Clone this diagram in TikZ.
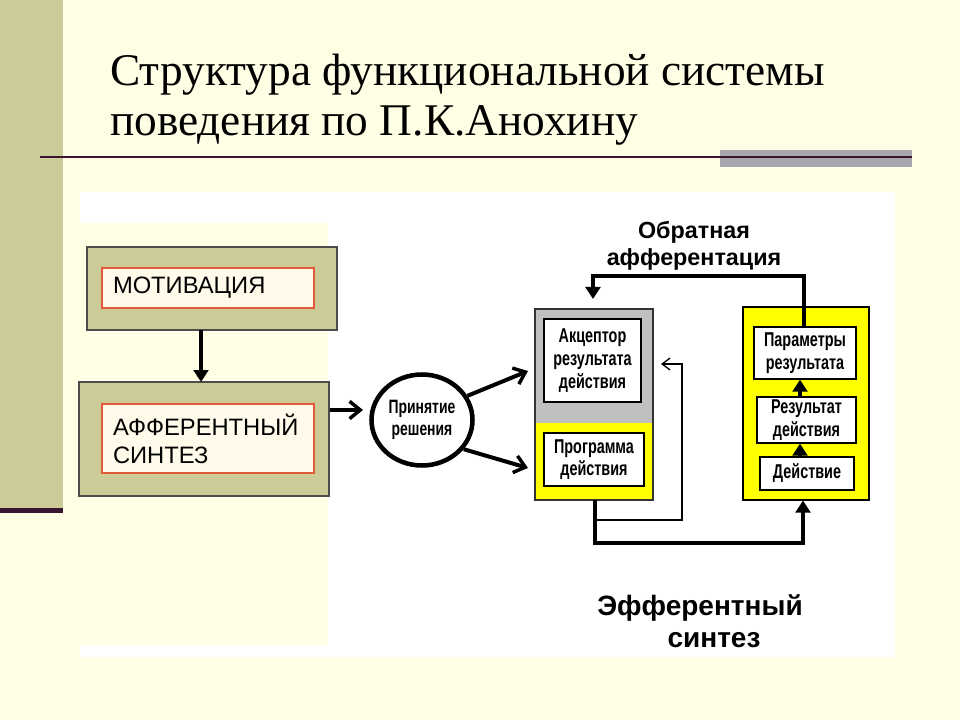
\documentclass[tikz,border=0pt]{standalone}
\usepackage{fontspec}
\setmainfont{Liberation Serif}
\newfontfamily\arialfont{Liberation Sans}
\newfontfamily\narrowfont[FakeStretch=0.72]{Liberation Sans}
\usetikzlibrary{arrows.meta, calc, shapes.geometric}

\definecolor{slidebg}{HTML}{FFFFE6}
\definecolor{olive}{HTML}{CCCC99}
\definecolor{darkrule}{HTML}{3A1530}
\definecolor{rulegray}{HTML}{A6A6AE}
\definecolor{innerfill}{HTML}{FFFAEA}
\definecolor{innerred}{HTML}{E05A3A}
\definecolor{blockgray}{HTML}{C0C0C0}
\definecolor{blockyellow}{HTML}{FFFF00}

\begin{document}
\begin{tikzpicture}[
        x=0.75pt, y=-0.75pt,
        outerbox/.style={draw=black!70, fill=olive, line width=1pt},
        innerbox/.style={draw=innerred, fill=innerfill, line width=0.8pt, inner sep=0pt,
            align=left, font=\arialfont\fontsize{17.8}{21}\selectfont},
        smallbox/.style={draw=black, fill=white, line width=1pt, inner sep=0pt, align=center,
            font=\narrowfont\bfseries\fontsize{15}{17}\selectfont},
        thickline/.style={line width=3pt},
        openhead/.style={-{Straight Barb[length=8pt, width=13pt, line width=2.6pt]}},
        fullhead/.style={-{Triangle[length=9pt, width=11pt]}},
    ]

    \useasboundingbox (0, 0) rectangle (960, 720);
    \fill[slidebg] (0, 0) rectangle (960, 720);

    \fill[olive] (0, 0) rectangle (63, 508);
    \draw[darkrule, line width=3.8pt] (0, 510.5) -- (63, 510.5);

    \node[anchor=base west, align=left, inner sep=0pt,
        font=\fontsize{34}{37.5}\selectfont] (title) at (110, 136)
        {Структура функциональной системы\\поведения по П.К.Анохину};

    \fill[rulegray] (720, 150) rectangle (912, 167);
    \draw[darkrule, line width=2.2pt] (40, 157) -- (912, 157);

    \fill[white] (80, 192) rectangle (895, 657);
    \fill[slidebg] (80, 223) rectangle (328, 645);

    \node[outerbox, minimum width=250*0.75pt, minimum height=83*0.75pt] (motivOuter) at (212, 288.5) {};
    \node[innerbox, minimum width=212*0.75pt, minimum height=40*0.75pt, text width=190*0.75pt] (motivInner) at (208, 288)
        {МОТИВАЦИЯ};

    \node[outerbox, minimum width=250*0.75pt, minimum height=114*0.75pt] (affOuter) at (204, 439) {};
    \node[innerbox, minimum width=212*0.75pt, minimum height=69*0.75pt, text width=190*0.75pt] (affInner) at (208, 438.5)
        {АФФЕРЕНТНЫЙ\\СИНТЕЗ};

    \node[ellipse, draw=black, line width=3.4pt, fill=white, minimum width=101*0.75pt, minimum height=91*0.75pt,
        inner sep=0pt, align=center, font=\narrowfont\bfseries\fontsize{14.5}{17}\selectfont] (decision) at (422, 420)
        {Принятие\\решения};

    \fill[blockgray] (535, 309) rectangle (653, 423);
    \fill[blockyellow] (535, 423) rectangle (653, 500);
    \draw[black!80, line width=0.8pt] (535, 309) rectangle (653, 500);
    \coordinate (leftBottom) at (595, 500);
    \coordinate (thinTip) at (661, 364);

    \node[smallbox, minimum width=97*0.75pt, minimum height=83*0.75pt] (acceptor) at (592.5, 360.5)
        {Акцептор\\результата\\действия};
    \node[smallbox, minimum width=100*0.75pt, minimum height=53*0.75pt] (program) at (594, 459.5)
        {Программа\\действия};

    \node[draw=black, fill=blockyellow, line width=0.8pt, minimum width=126*0.75pt, minimum height=193*0.75pt] (rightBlock) at (806, 403.5) {};
    \node[smallbox, minimum width=102*0.75pt, minimum height=52*0.75pt] (params) at (805, 353)
        {Параметры\\результата};
    \node[smallbox, minimum width=99*0.75pt, minimum height=46*0.75pt] (result) at (806.5, 420)
        {Результат\\действия};
    \node[smallbox, minimum width=94*0.75pt, minimum height=33*0.75pt] (action) at (807, 473.5)
        {Действие};

    \draw[thickline, fullhead] (201, 330) -- (201, 382);
    \draw[thickline, openhead] (affOuter.east |- 0, 410) -- (363, 410);
    \draw[thickline, openhead] (decision.28) -- (528, 371);
    \draw[thickline, openhead] (decision.-35) -- (528, 468);

    \draw[thickline, fullhead] (params.north -| 804, 0) -- (804, 276) -- (593, 276) -- (593, 299);
    \node[font=\arialfont\bfseries\fontsize{17.5}{20}\selectfont, align=center] (feedbackLabel) at (694, 246)
        {Обратная\\афферентация};

    \draw[thickline, fullhead] (leftBottom) -- (595, 543) -- (803, 543) -- (rightBlock.south -| 803, 0);
    \draw[line width=1pt, -{Straight Barb[length=6pt, width=9pt]}] (595, 520) -- (682, 520) -- (682, 364) -- (thinTip);

    \draw[thickline, fullhead] (result.north -| 800, 0) -- (params.south -| 800, 0);
    \draw[thickline, fullhead] (action.north -| 800, 0) -- (result.south -| 800, 0);

    \node[font=\arialfont\bfseries\fontsize{21}{24}\selectfont, align=center] (effLabel) at (700, 621)
        {Эфферентный\\\hspace*{1em}синтез};
\end{tikzpicture}
\end{document}
